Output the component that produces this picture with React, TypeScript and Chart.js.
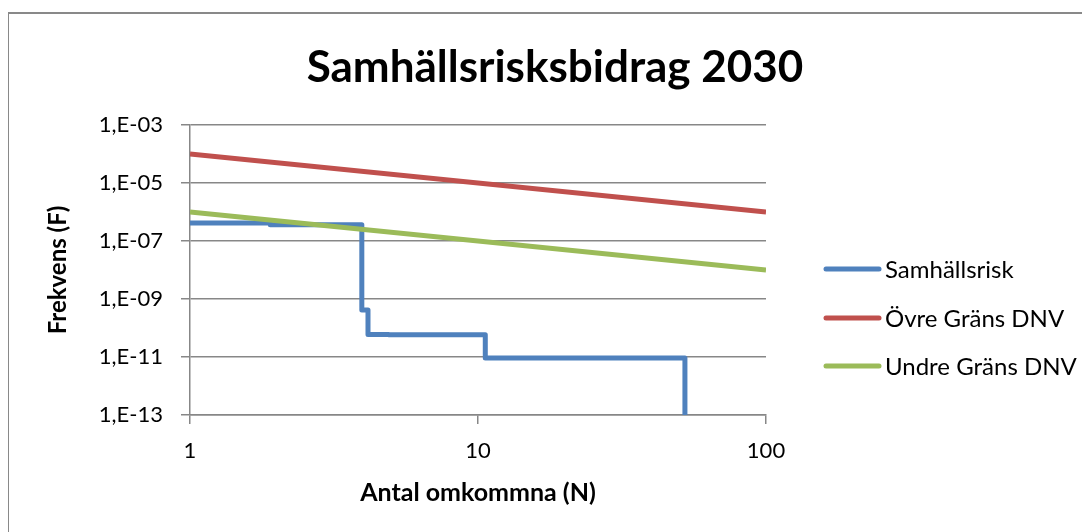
import React, { useEffect, useRef } from "react";
import { Chart, registerables } from "chart.js";

Chart.register(...registerables);

const TITLE = "Samhällsrisksbidrag 2030";
const X_TITLE = "Antal omkommna (N)";
const Y_TITLE = "Frekvens (F)";

const SERIES_NAMES = ["Samhällsrisk", "Övre Gräns DNV", "Undre Gräns DNV"];
const SERIES_COLORS = ["#4F81BD", "#C0504D", "#9BBB59"];

// Societal risk (step curve): N where each step occurs, F after the step
const RISK_N = [1, 1.9, 3.95, 4.15, 4.9, 10.6, 52.3];
const RISK_F = [4.2e-7, 3.6e-7, 4.2e-10, 6.0e-11, 5.8e-11, 9.2e-12, 1e-13];

// DNV limit lines
const LIMIT_N = [1, 100];
const UPPER_F = [1e-4, 1e-6];
const LOWER_F = [1e-6, 1e-8];

const X_TICKS = [1, 10, 100];
const Y_TICKS = [1e-3, 1e-5, 1e-7, 1e-9, 1e-11, 1e-13];

const FONT = "Lato, 'Noto Sans', sans-serif";
const GRID = "#878787";

function fmtY(v: number): string {
  const e = Math.round(Math.log10(v));
  return "1,E" + (e < 0 ? "-" : "+") + String(Math.abs(e)).padStart(2, "0");
}

const overlay = {
  id: "overlay",
  afterDraw(chart: any) {
    const ctx = chart.ctx as CanvasRenderingContext2D;
    const a = chart.chartArea;
    ctx.save();
    ctx.fillStyle = "#000";
    ctx.textAlign = "center";
    ctx.textBaseline = "middle";
    ctx.font = `bold 44px ${FONT}`;
    ctx.fillText(TITLE, 547, 60);
    ctx.font = `bold 25px ${FONT}`;
    ctx.fillText(X_TITLE, (a.left + a.right) / 2, 485);
    ctx.font = `bold 24px ${FONT}`;
    ctx.save();
    ctx.translate(50, (a.top + a.bottom) / 2);
    ctx.rotate(-Math.PI / 2);
    ctx.fillText(Y_TITLE, 0, 0);
    ctx.restore();
    // legend
    ctx.textAlign = "left";
    ctx.font = `24px ${FONT}`;
    const ys = [261, 310, 358];
    chart.data.datasets.forEach((ds: any, i: number) => {
      const y = ys[i];
      ctx.strokeStyle = ds.borderColor;
      ctx.lineWidth = 5;
      ctx.lineCap = "round";
      ctx.beginPath();
      ctx.moveTo(818, y);
      ctx.lineTo(871, y);
      ctx.stroke();
      ctx.fillText(ds.label, 877, y + 1);
    });
    ctx.restore();
  },
};

export default function App() {
  const ref = useRef<HTMLCanvasElement | null>(null);
  useEffect(() => {
    if (!ref.current) return;
    const chart = new Chart(ref.current, {
      type: "scatter",
      data: {
        datasets: [
          {
            label: SERIES_NAMES[0],
            data: RISK_N.map((n, i) => ({ x: n, y: RISK_F[i] })),
            showLine: true,
            stepped: "before",
            borderColor: SERIES_COLORS[0],
            backgroundColor: SERIES_COLORS[0],
            borderWidth: 5,
            pointRadius: 0,
            borderJoinStyle: "round",
            borderCapStyle: "butt",
            order: 3,
          },
          {
            label: SERIES_NAMES[1],
            data: LIMIT_N.map((n, i) => ({ x: n, y: UPPER_F[i] })),
            showLine: true,
            borderColor: SERIES_COLORS[1],
            backgroundColor: SERIES_COLORS[1],
            borderWidth: 5,
            pointRadius: 0,
            order: 2,
          },
          {
            label: SERIES_NAMES[2],
            data: LIMIT_N.map((n, i) => ({ x: n, y: LOWER_F[i] })),
            showLine: true,
            borderColor: SERIES_COLORS[2],
            backgroundColor: SERIES_COLORS[2],
            borderWidth: 5,
            pointRadius: 0,
            order: 1,
          },
        ],
      },
      options: {
        animation: false,
        responsive: false,
        layout: { padding: { left: 0, top: 117, right: 324, bottom: 0 } },
        plugins: {
          legend: { display: false },
          title: { display: false },
          tooltip: { enabled: false },
        },
        scales: {
          x: {
            type: "logarithmic",
            min: 1,
            max: 100,
            afterFit: (s: any) => {
              s.height = 117;
            },
            afterBuildTicks: (s: any) => {
              s.ticks = X_TICKS.map((v) => ({ value: v, major: true }));
            },
            grid: {
              drawOnChartArea: false,
              drawTicks: true,
              tickLength: 9,
              color: GRID,
              lineWidth: 1.5,
            },
            border: { display: true, color: GRID, width: 1.5 },
            ticks: {
              padding: 14,
              color: "#000",
              font: { family: FONT, size: 22 },
              autoSkip: false,
              maxRotation: 0,
              callback: (v: any) => String(v),
            },
          },
          y: {
            type: "logarithmic",
            min: 1e-13,
            max: 1e-3,
            afterFit: (s: any) => {
              s.width = 182;
            },
            afterBuildTicks: (s: any) => {
              s.ticks = Y_TICKS.map((v) => ({ value: v, major: true }));
            },
            grid: {
              drawOnChartArea: true,
              drawTicks: true,
              tickLength: 9,
              color: GRID,
              lineWidth: 1.5,
            },
            border: { display: true, color: GRID, width: 1.5 },
            ticks: {
              padding: 18,
              color: "#000",
              font: { family: FONT, size: 22 },
              autoSkip: false,
              callback: (v: any) => fmtY(Number(v)),
            },
          },
        },
      },
      plugins: [overlay],
    });
    return () => chart.destroy();
  }, []);

  return (
    <div style={{ position: "relative", width: 1082, height: 524, background: "#fff" }}>
      <div
        style={{
          position: "absolute",
          left: -1,
          top: 4,
          right: -20,
          bottom: -20,
          borderLeft: "2px solid #898989",
          borderTop: "2px solid #898989",
          pointerEvents: "none",
        }}
      />
      <canvas ref={ref} width={1082} height={524} style={{ display: "block", position: "relative" }} />
    </div>
  );
}
